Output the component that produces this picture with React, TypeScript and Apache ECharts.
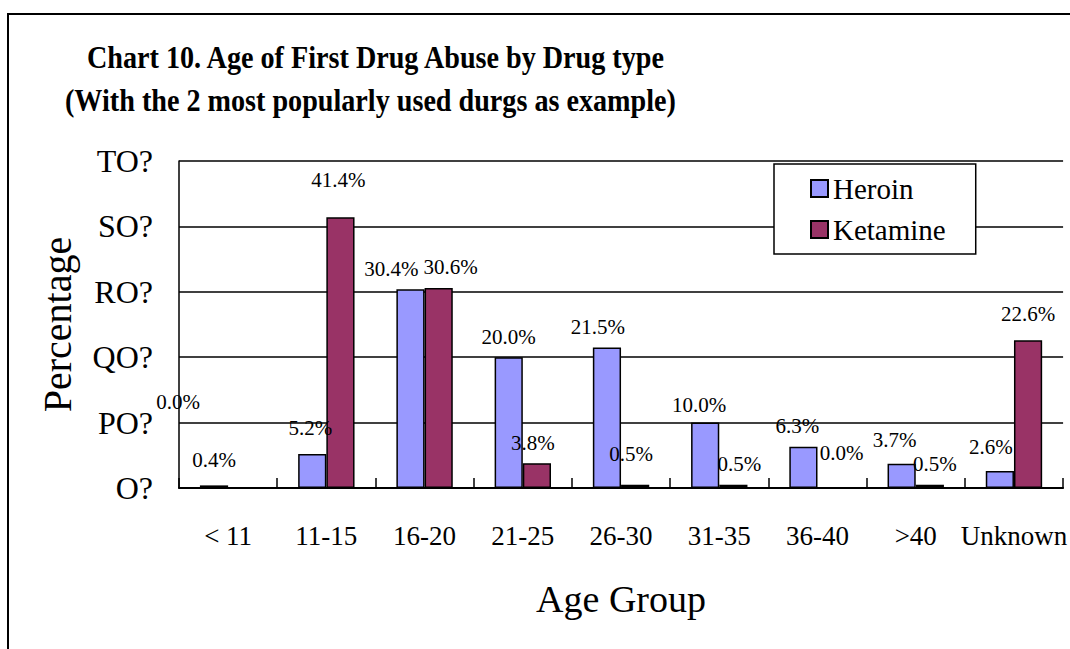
import React, { useEffect, useRef } from "react";
import * as echarts from "echarts";

const categories = ["< 11", "11-15", "16-20", "21-25", "26-30", "31-35", "36-40", ">40", "Unknown"];
const heroin = [0.4, 5.2, 30.4, 20.0, 21.5, 10.0, 6.3, 3.7, 2.6];
const ketamine = [0.0, 41.4, 30.6, 3.8, 0.5, 0.5, 0.0, 0.5, 22.6];
const yTickLabels = ["O?", "PO?", "QO?", "RO?", "SO?", "TO?"];

// label nudges [dx, dy] in pixels (styling, not data)
const heroinLabelShift = [[0, -5], [-2, -5], [-19, 0], [0, 0], [-9, 0], [-6, 3], [-6, 0], [-7, -3], [-9, -3]];
const ketamineLabelShift = [[-64, -66], [-2, -17], [12, 0], [-4, 0], [-4, -10], [6, 0], [10, -15], [5, 0], [0, -6]];

const SERIF = "Liberation Serif";

function buildData(values: number[], color: string, shifts: number[][]) {
  return values.map((v, i) => ({
    value: v,
    itemStyle:
      v === 0
        ? { color: "transparent", borderWidth: 0 }
        : v < 1
        ? { color: "#000000", borderWidth: 2.5 }
        : { color },
    label: { offset: shifts[i] },
  }));
}

export default function App() {
  const ref = useRef<HTMLDivElement>(null);
  useEffect(() => {
    document.body.style.margin = "0";
    if (!ref.current) return;
    const chart = echarts.init(ref.current, null, { renderer: "svg" });
    const labelCfg = {
      show: true,
      position: "top",
      distance: 10,
      color: "#000",
      fontFamily: SERIF,
      fontSize: 21,
      formatter: (p: any) => Number(p.value).toFixed(1) + "%",
    };
    chart.setOption({
      animation: false,
      backgroundColor: "#fff",
      textStyle: { fontFamily: SERIF },
      graphic: [
        {
          type: "rect",
          shape: { x: 8, y: 14, width: 1200, height: 800 },
          style: { fill: "none", stroke: "#000", lineWidth: 2 },
          silent: true,
        },
        {
          type: "text",
          x: 87,
          y: 57,
          scaleX: 0.88,
          style: {
            text: "Chart 10. Age of First Drug Abuse by Drug type",
            fontFamily: SERIF,
            fontWeight: "bold",
            fontSize: 32,
            fill: "#000",
            textAlign: "left",
            textVerticalAlign: "middle",
          },
        },
        {
          type: "text",
          x: 65,
          y: 100,
          scaleX: 0.88,
          style: {
            text: "(With the 2 most popularly used durgs as example)",
            fontFamily: SERIF,
            fontWeight: "bold",
            fontSize: 32,
            fill: "#000",
            textAlign: "left",
            textVerticalAlign: "middle",
          },
        },
      ],
      legend: {
        orient: "vertical",
        left: 774,
        top: 164,
        padding: [10, 30, 10, 36],
        itemGap: 12,
        itemWidth: 17,
        itemHeight: 17,
        backgroundColor: "#fff",
        borderColor: "#000",
        borderWidth: 1.5,
        borderRadius: 0,
        icon: "rect",
        textStyle: { fontFamily: SERIF, fontSize: 29, color: "#000" },
        data: ["Heroin", "Ketamine"],
      },
      grid: { left: 179, top: 161, right: 3, bottom: 161, containLabel: false },
      xAxis: {
        type: "category",
        data: categories,
        axisLine: { lineStyle: { color: "#000", width: 2 } },
        axisTick: { show: true, inside: true, length: 10, lineStyle: { color: "#000", width: 1.5 } },
        axisLabel: { interval: 0, fontFamily: SERIF, fontSize: 27, color: "#000", margin: 34 },
        name: "Age Group",
        nameLocation: "middle",
        nameGap: 92,
        nameTextStyle: { fontFamily: SERIF, fontSize: 38, color: "#000" },
      },
      yAxis: {
        type: "value",
        min: 0,
        max: 50,
        interval: 10,
        axisLine: { show: true, lineStyle: { color: "#000", width: 1.5 } },
        axisTick: { show: false },
        splitLine: { lineStyle: { color: "#000", width: 1.5 } },
        axisLabel: {
          fontFamily: SERIF,
          fontSize: 32,
          color: "#000",
          margin: 26,
          formatter: (v: number) => yTickLabels[Math.round(v / 10)],
        },
        name: "Percentage",
        nameLocation: "middle",
        nameGap: 102,
        nameTextStyle: { fontFamily: SERIF, fontSize: 40, color: "#000" },
      },
      series: [
        {
          name: "Heroin",
          type: "bar",
          barWidth: "28.7%",
          barGap: "0%",
          itemStyle: { color: "#9999FF", borderColor: "#000", borderWidth: 1.5 },
          label: labelCfg,
          data: buildData(heroin, "#9999FF", heroinLabelShift),
        },
        {
          name: "Ketamine",
          type: "bar",
          barWidth: "28.7%",
          barGap: "0%",
          itemStyle: { color: "#993366", borderColor: "#000", borderWidth: 1.5 },
          label: labelCfg,
          data: buildData(ketamine, "#993366", ketamineLabelShift),
        },
      ],
    });
    return () => chart.dispose();
  }, []);
  return <div ref={ref} style={{ width: 1070, height: 649 }} />;
}
